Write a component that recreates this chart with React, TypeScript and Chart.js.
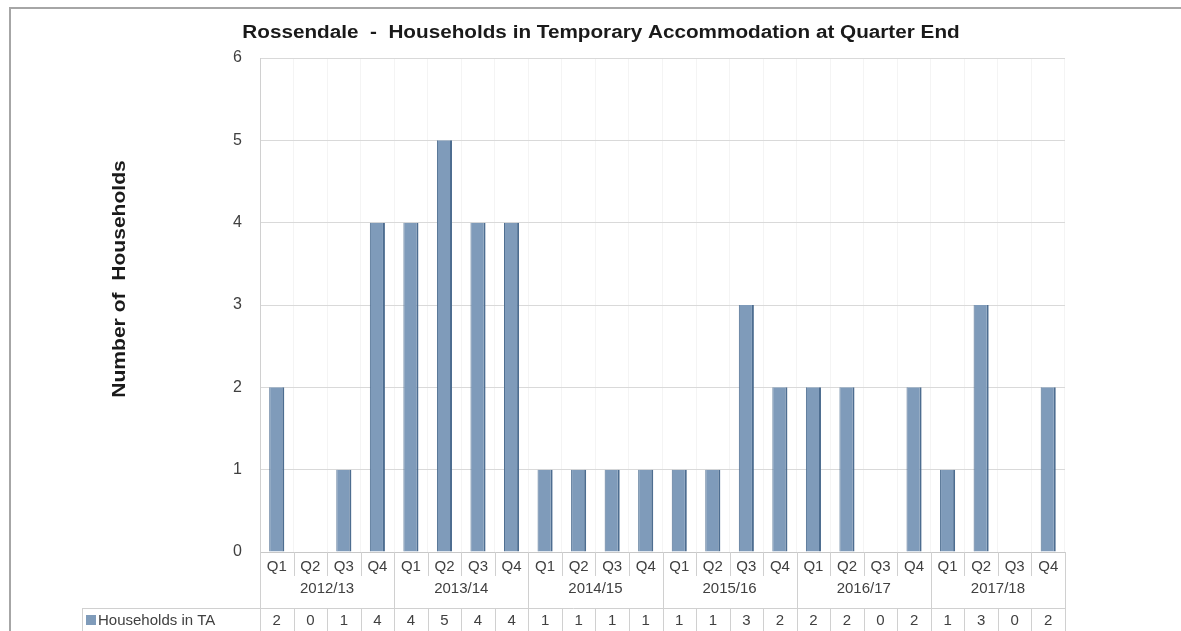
import React, { useEffect, useRef } from "react";
import { Chart, registerables } from "chart.js";

Chart.register(...registerables);

const chartTitle = "Rossendale  -  Households in Temporary Accommodation at Quarter End";
const yAxisTitle = "Number of  Households";
const seriesName = "Households in TA";
const years = ["2012/13", "2013/14", "2014/15", "2015/16", "2016/17", "2017/18"];
const quarters = ["Q1", "Q2", "Q3", "Q4"];
const households = [2, 0, 1, 4, 4, 5, 4, 4, 1, 1, 1, 1, 1, 1, 3, 2, 2, 2, 0, 2, 1, 3, 0, 2];
const yMin = 0;
const yMax = 6;
const yStep = 1;

const categories: string[] = [];
years.forEach((y) => quarters.forEach((q) => categories.push(`${y} ${q}`)));

const FONT = "'Liberation Sans', Arial, sans-serif";
const BAR_FILL = "#7f9bba";
const BAR_EDGE = "#4d6d90";

const tablePlugin = {
  id: "tablePlugin",
  beforeDraw(chart: any) {
    const ctx = chart.ctx;
    ctx.save();
    ctx.fillStyle = "#ffffff";
    ctx.fillRect(0, 0, chart.width, chart.height);
    ctx.strokeStyle = "#a6a6a6";
    ctx.lineWidth = 2;
    ctx.beginPath();
    ctx.moveTo(10, chart.height);
    ctx.lineTo(10, 8);
    ctx.lineTo(chart.width, 8);
    ctx.stroke();
    ctx.restore();
  },
  afterDraw(chart: any) {
    const ctx = chart.ctx;
    const xs = chart.scales.x;
    const area = chart.chartArea;
    const n = categories.length;
    const w = (area.right - area.left) / n;
    const bottom = area.bottom;
    const qRowBottom = bottom + 24;
    const dataTop = bottom + 56;
    const H = chart.height;
    ctx.save();
    // title
    ctx.fillStyle = "#1a1a1a";
    ctx.font = `bold 18px ${FONT}`;
    ctx.textAlign = "center";
    ctx.textBaseline = "middle";
    ctx.save();
    ctx.translate(601, 33);
    ctx.scale(1.15, 1);
    ctx.fillText(chartTitle, 0, 0);
    ctx.restore();
    // y axis title
    ctx.save();
    ctx.translate(120, 279);
    ctx.rotate(-Math.PI / 2);
    ctx.scale(1.17, 1);
    ctx.font = `bold 18px ${FONT}`;
    ctx.fillText(yAxisTitle, 0, 0);
    ctx.restore();

    ctx.strokeStyle = "#d0d0d0";
    ctx.lineWidth = 1;
    ctx.beginPath();
    for (let i = 0; i <= n; i++) {
      const x = Math.round(xs.getPixelForValue(Math.min(i, n - 1)) + (i === n ? w / 2 : -w / 2)) + 0.5;
      if (i % 4 === 0) {
        ctx.moveTo(x, bottom);
        ctx.lineTo(x, H);
      } else {
        ctx.moveTo(x, bottom);
        ctx.lineTo(x, qRowBottom);
        ctx.moveTo(x, dataTop);
        ctx.lineTo(x, H);
      }
    }
    ctx.moveTo(82, dataTop + 0.5);
    ctx.lineTo(area.right, dataTop + 0.5);
    ctx.moveTo(82.5, dataTop);
    ctx.lineTo(82.5, H);
    ctx.stroke();

    ctx.fillStyle = "#404040";
    ctx.font = `15px ${FONT}`;
    ctx.textAlign = "center";
    for (let i = 0; i < n; i++) {
      const x = xs.getPixelForValue(i);
      ctx.fillText(quarters[i % 4], x, bottom + 15);
      ctx.fillText(String(households[i]), x, dataTop + 13);
    }
    years.forEach((y, j) => {
      const x1 = xs.getPixelForValue(j * 4) - w / 2;
      const x2 = xs.getPixelForValue(j * 4 + 3) + w / 2;
      ctx.fillText(y, (x1 + x2) / 2, bottom + 37);
    });
    ctx.fillStyle = BAR_FILL;
    ctx.fillRect(86, dataTop + 7, 10, 10);
    ctx.fillStyle = "#404040";
    ctx.textAlign = "left";
    ctx.fillText(seriesName, 98, dataTop + 13);
    ctx.restore();
  },
};

export default function App() {
  const ref = useRef<HTMLCanvasElement | null>(null);
  useEffect(() => {
    if (!ref.current) return;
    const chart = new Chart(ref.current, {
      type: "bar",
      data: {
        labels: categories,
        datasets: [
          {
            label: seriesName,
            data: households,
            backgroundColor: BAR_FILL,
            borderColor: BAR_EDGE,
            borderWidth: { left: 1, right: 2, top: 0, bottom: 0 },
            barPercentage: 0.45,
            categoryPercentage: 1,
          },
        ],
      },
      options: {
        animation: false,
        responsive: false,
        devicePixelRatio: 1,
        layout: { padding: { top: 58, right: 116, left: 0, bottom: 0 } },
        plugins: { legend: { display: false }, title: { display: false }, tooltip: { enabled: false } },
        scales: {
          x: {
            type: "category",
            offset: true,
            ticks: { display: false },
            grid: { color: "#f4f4f4", drawTicks: false, offset: true },
            border: { color: "#c8c8c8" },
            afterFit: (s: any) => {
              s.height = 79;
            },
          },
          y: {
            min: yMin,
            max: yMax,
            ticks: { stepSize: yStep, color: "#404040", font: { size: 16, family: FONT }, padding: 18 },
            grid: { color: "#d9d9d9", drawTicks: false },
            border: { color: "#d0d0d0" },
            afterFit: (s: any) => {
              s.width = 260;
            },
          },
        },
      },
      plugins: [tablePlugin],
    });
    return () => chart.destroy();
  }, []);
  return (
    <div style={{ position: "fixed", left: 0, top: 0, width: 1181, height: 631 }}>
      <canvas ref={ref} width={1181} height={631} style={{ width: 1181, height: 631, display: "block" }} />
    </div>
  );
}
